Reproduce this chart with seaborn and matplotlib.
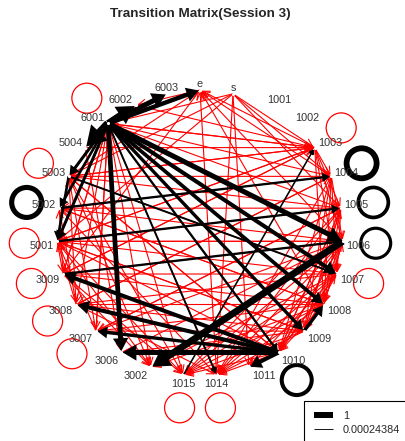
import numpy as np
import pandas as pd
import seaborn as sns
import matplotlib.pyplot as plt
from matplotlib.patches import FancyArrowPatch, Circle
from matplotlib.lines import Line2D

# states in clockwise order starting at the top
states = ["e", "s", "1001", "1002", "1003", "1004", "1005", "1006", "1007",
          "1008", "1009", "1010", "1011", "1014", "1015", "3002", "3006",
          "3007", "3008", "3009", "5001", "5002", "5003", "5004", "6001",
          "6002", "6003"]

# strong transitions (black)
strong_from = ["6001", "6001", "6001", "6001", "6001", "6001", "6001", "6001",
               "6001", "6001", "6001", "6001", "6001", "6001", "1006", "1010",
               "1010", "1010", "1010", "1010", "1009", "5001", "5002", "3009",
               "5003", "1015", "5003"]
strong_to = ["5004", "6002", "6003", "e", "5003", "5002", "5001", "3006",
             "1014", "1009", "1008", "1007", "1006", "1010", "3002", "3006",
             "3007", "3008", "3009", "1011", "1008", "1005", "1004", "1006",
             "1007", "1003", "5001"]
strong_w = [1.0, 0.85, 0.6, 0.5, 0.3, 0.25, 0.3, 0.55,
            0.15, 0.35, 0.4, 0.45, 0.6, 0.2, 0.85, 0.6,
            0.35, 0.45, 0.45, 0.45, 0.35, 0.2, 0.2, 0.2,
            0.15, 0.1, 0.25]

# weak transitions (red), listed by target state
weak_in = {
    "e": ["1003", "1004", "1006", "1008", "5003", "3009", "1014"],
    "6002": ["e"],
    "1003": ["6001", "5004", "5003", "s", "6002", "3009", "5001"],
    "1004": ["6001", "5003", "s", "1003", "3008"],
    "1005": ["5002", "6001", "1003", "s", "3007", "1009", "1010"],
    "1006": ["5001", "1003", "1004", "1008", "1010", "3006"],
    "1007": ["1004", "1005", "1010", "3009", "1003"],
    "1008": ["1004", "1005", "1006", "1003", "3008", "5002"],
    "1009": ["1005", "1006", "1007", "1004", "3007", "5001"],
    "1010": ["1004", "1005", "1006", "1007", "1008", "3006", "5003"],
    "1011": ["1006", "1007", "s"],
    "1014": ["1004", "1005", "1006", "1007", "1008", "1009", "1010", "3008", "5002", "s"],
    "1015": ["1005", "1006", "1007", "1008", "1009", "1010", "3009", "5001", "5003", "6001"],
    "3002": ["6001", "5003", "5001", "1007", "1008", "3009"],
    "3006": ["5004", "1009"],
    "3007": ["6001", "5003", "1008", "1006", "1005"],
    "3008": ["6001", "5002", "1009", "1007", "1004"],
    "3009": ["5001", "6001", "1006", "1003", "1008"],
    "5001": ["1003", "1005", "1006", "1007", "1009", "3008", "3007", "1010", "s"],
    "5002": ["1004", "1006", "3009", "1008"],
    "5003": ["1003", "1005", "1007", "3008", "s", "1010"],
    "6001": ["1003", "1006", "1008", "1010", "3007", "1014", "s", "5001", "3009", "e"],
}
weak_weight = 0.03

# self transitions
loop_states = ["6001", "5003", "5002", "5001", "3009", "3008", "3007", "1015",
               "1014", "1010", "1007", "1006", "1005", "1004", "1003"]
loop_w = [0.05, 0.05, 0.6, 0.05, 0.05, 0.05, 0.05, 0.05,
          0.05, 0.45, 0.05, 0.32, 0.4, 0.7, 0.05]

legend_labels = ["1", "0.00024384"]

sns.set_theme(style="white")
plt.rcParams['font.family'] = ['Liberation Sans', 'DejaVu Sans']

n = len(states)
ang = np.pi / 2 - 2 * np.pi * np.arange(n) / n
nodes = pd.DataFrame({"state": states, "x": np.cos(ang), "y": np.sin(ang)})
pos = {s: (x, y) for s, x, y in zip(nodes.state, nodes.x, nodes.y)}

fig = plt.figure(figsize=(4.05, 4.41), dpi=100)
ax = fig.add_axes([0, 0, 1, 1])
R = 143.0
ax.set_xlim(-200 / R, 205 / R)
ax.set_ylim(-208 / R, 233 / R)
ax.axis('off')


def lw_of(w):
    return (0.9 + 7 * w) * 0.72


def draw_edge(a, b, w, color, z):
    lw = lw_of(w)
    if color == 'black':
        style = "-|>,head_length=0.5,head_width=0.3"
        ms = 4 + 1.3 * lw
    else:
        style = "->,head_length=0.45,head_width=0.22"
        ms = 12
    arr = FancyArrowPatch(pos[a], pos[b], arrowstyle=style, mutation_scale=ms,
                          lw=lw, color=color, shrinkA=0, shrinkB=1, zorder=z,
                          capstyle='butt', joinstyle='miter')
    ax.add_patch(arr)


for tgt, srcs in weak_in.items():
    for src in srcs:
        draw_edge(src, tgt, weak_weight, 'red', 2)

for a, b, w in zip(strong_from, strong_to, strong_w):
    draw_edge(a, b, w, 'black', 3)

for s, w in zip(loop_states, loop_w):
    x, y = pos[s]
    k = 1 + 33 / R
    col = 'black' if w >= 0.1 else 'red'
    ax.add_patch(Circle((x * k, y * k), 15 / R, fill=False, ec=col,
                        lw=lw_of(w), zorder=3))

sns.scatterplot(data=nodes, x="x", y="y", color="white", s=5, linewidth=0,
                ax=ax, zorder=4, legend=False)
ax.set_xlabel("")
ax.set_ylabel("")

for s, x, y in zip(nodes.state, nodes.x, nodes.y):
    if x > 0.3:
        ha, dx = 'left', 3
    elif x < -0.3:
        ha, dx = 'right', -3
    else:
        ha, dx = 'center', 0
    dy = -(2 + 4 * y) if y > 0 else 4.5 - 4.5 * y
    ax.annotate(s, (x, y), xytext=(dx * 0.72, -dy * 0.72), textcoords='offset points',
                ha=ha, va='center', fontsize=7.8, color='#333333', zorder=5)

fig.text(200 / 405, 1 - 14 / 441, "Transition Matrix(Session 3)", ha='center',
         va='center', fontsize=9.7, fontweight='bold')

handles = [Line2D([], [], color='black', lw=6 * 0.72, solid_capstyle='butt'),
           Line2D([], [], color='black', lw=0.9 * 0.72, solid_capstyle='butt')]
leg = fig.legend(handles, legend_labels, loc='upper left',
                 bbox_to_anchor=(304 / 405, 1 - 401 / 441), fontsize=7.8,
                 frameon=True, fancybox=False, edgecolor='black', framealpha=1,
                 borderpad=0.9, handlelength=1.8, handletextpad=0.9,
                 labelspacing=0.35, borderaxespad=0)
leg.get_frame().set_linewidth(0.8)

fig.savefig("out.png", dpi=100)
